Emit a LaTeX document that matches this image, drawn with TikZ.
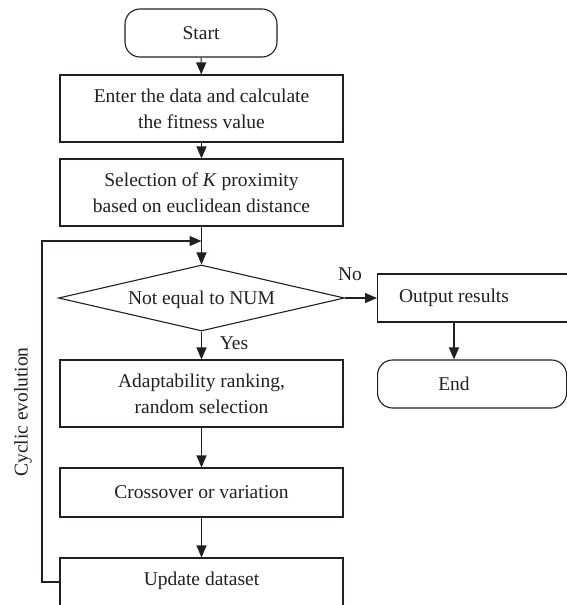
\documentclass[tikz,border=0pt]{standalone}
\usepackage{fontspec}
\setmainfont{Liberation Serif}
\usetikzlibrary{arrows.meta,shapes.geometric}
\definecolor{ink}{HTML}{231F20}
\begin{document}
\begin{tikzpicture}[x=1pt,y=-1pt,
  every node/.style={font=\fontsize{19.5}{26}\selectfont, text=ink},
  procbox/.style={draw=ink, line width=1.1pt, rectangle, inner sep=0pt, align=center, minimum width=283pt},
  termbox/.style={draw=ink, line width=1.1pt, rectangle, rounded corners=15pt, inner sep=0pt, minimum height=48pt},
  flow/.style={draw=ink, line width=1.1pt, -{Triangle[length=12pt,width=10pt]}}]
\clip (0,0) rectangle (567,605);

% terminals
\node[termbox, minimum width=152pt] (start) at (201,33) {Start};
\node[termbox, minimum width=189pt, anchor=west] (end) at (377,384) {};
\node at (454,384) {End};

% process boxes
\node[procbox, minimum height=67pt] (enter) at (201.5,108.5) {Enter the data and calculate\\the fitness value};
\node[procbox, minimum height=67pt] (knn) at (201.5,192.5) {Selection of \textit{K} proximity\\based on euclidean distance};
\node[diamond, draw=ink, line width=1.1pt, inner sep=0pt, minimum width=286pt, minimum height=66pt] (test) at (201.5,298) {};
\node at (201.5,300) {Not equal to NUM};
\node[procbox, minimum height=67pt] (rank) at (201.5,393.5) {Adaptability ranking,\\random selection};
\node[procbox, minimum height=49pt] (cross) at (201.5,492.5) {Crossover or variation};
\node[procbox, minimum height=50pt] (update) at (201.5,583) {};
\node at (201.5,581) {Update dataset};

\node[draw=ink, line width=1.1pt, rectangle, inner sep=0pt, minimum width=195pt, minimum height=48pt, anchor=west] (out) at (377,298) {};
\node at (454,298) {Output results};

% labels
\node at (350,274) {No};
\node at (234,343) {Yes};
\node[rotate=90] at (23,412) {Cyclic evolution};

% connectors
\coordinate (join) at (201.5,241);
\coordinate (loopc) at (42,582);
\coordinate (rcol) at (454,340);
\draw[flow] (start) -- (enter);
\draw[flow] (enter) -- (knn);
\draw[flow] (knn) -- (test);
\draw[flow] (test) -- (rank);
\draw[flow] (rank) -- (cross);
\draw[flow] (cross) -- (update);
\draw[flow] (test.east) -- (out.west);
\draw[flow] (rcol |- out.south) -- (rcol |- end.north);
\draw[flow] (update.west |- loopc) -- (loopc) |- (join);
\end{tikzpicture}
\end{document}
